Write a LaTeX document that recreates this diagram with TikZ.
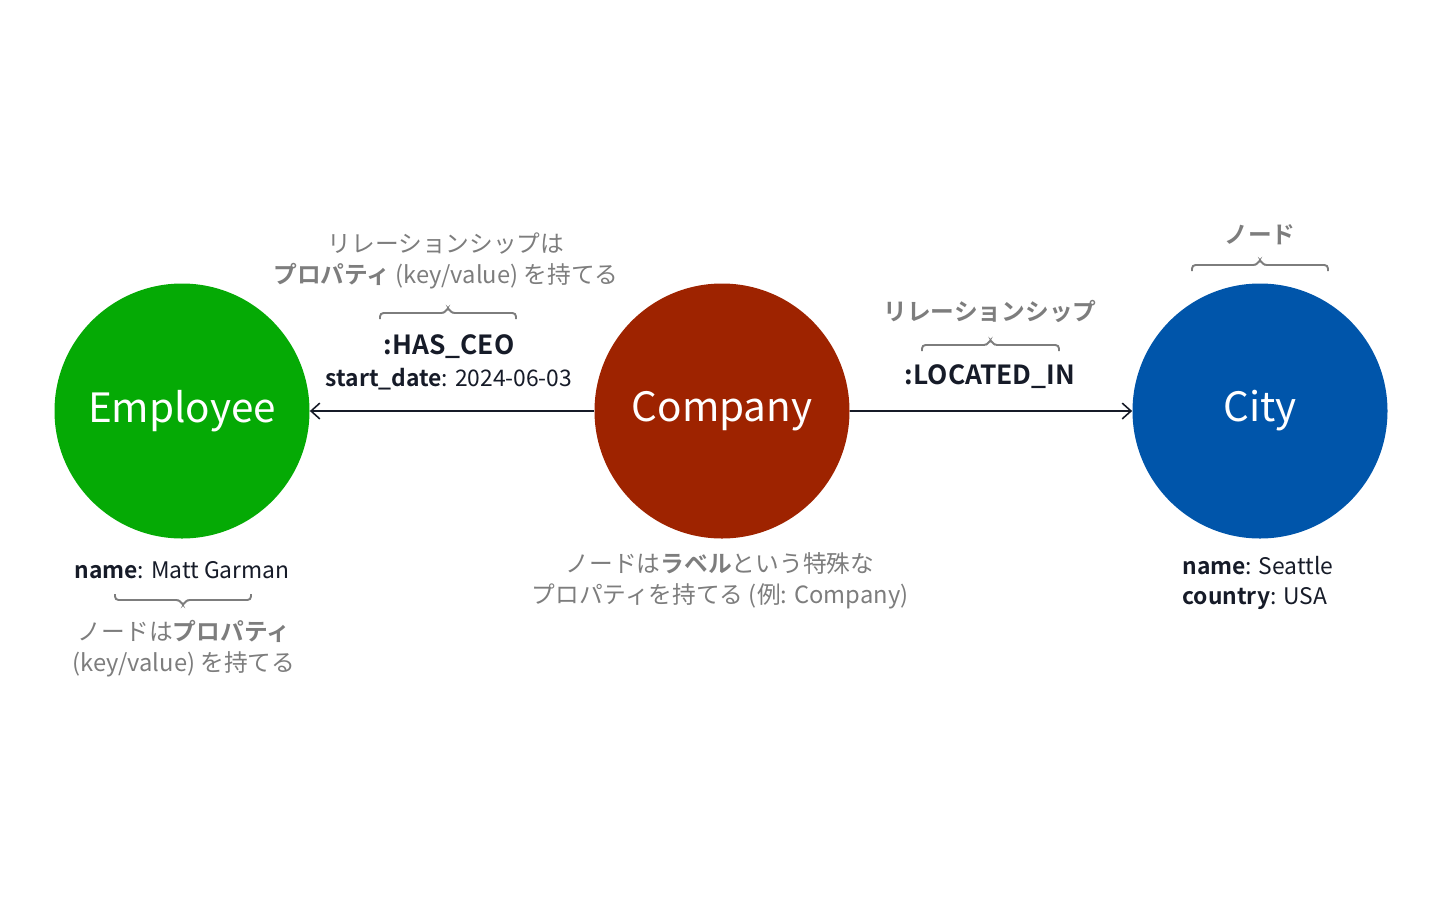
\documentclass[tikz,border=0pt]{standalone}
\usepackage{fontspec}
\setmainfont{Noto Sans CJK JP}[BoldFont={Noto Sans CJK JP Bold}]
\usetikzlibrary{arrows.meta}
\definecolor{empgreen}{RGB}{5,170,5}
\definecolor{comred}{RGB}{158,35,0}
\definecolor{cityblue}{RGB}{0,85,170}
\definecolor{inkdark}{RGB}{22,27,40}
\definecolor{notegray}{RGB}{125,125,125}
\tikzset{
  entity/.style={circle,minimum size=255*0.02cm,inner sep=0pt,text=white,font=\fontsize{23}{26}\selectfont},
  reltext/.style={text=inkdark,font=\bfseries\fontsize{15}{18}\selectfont,inner sep=0pt},
  proptext/.style={text=inkdark,font=\fontsize{13}{17}\selectfont,inner sep=0pt,align=left},
  note/.style={text=notegray,font=\fontsize{13.5}{17.5}\selectfont,inner sep=0pt,align=center},
  bracket/.style={draw=notegray,line width=1.1pt,rounded corners=2pt},
  link/.style={draw=inkdark,line width=0.9pt,-{Straight Barb[length=5pt,width=9pt]}}
}
% bracket: x1, x2, y, tip offset (neg = up)
\newcommand{\brk}[4]{\draw[bracket] (#1,#3-#4) -- (#1,#3) -- ({(#1+#2)/2-3},#3) -- ({(#1+#2)/2},#3+#4) -- ({(#1+#2)/2+3},#3) -- (#2,#3) -- (#2,#3-#4);}
\begin{document}
\begin{tikzpicture}[x=0.02cm,y=-0.02cm]
	\useasboundingbox (0,0) rectangle (1447,900);
	\node[entity,fill=empgreen] (emp) at (182,411) {Employee};
	\node[entity,fill=comred] (com) at (722,411) {Company};
	\node[entity,fill=cityblue] (city) at (1260,411) {City};
	\draw[link] (com) -- (emp);
	\draw[link] (com) -- (city);
	% relation labels
	\node[reltext] (hasceo) at (449,347) {:HAS\_CEO};
	\node[proptext] (sdate) at (449,379) {\textbf{start\_date}: 2024-06-03};
	\node[reltext] (locin) at (990,377) {:LOCATED\_IN};
	\node[note] (relprop) at (446,261) {リレーションシップは\\\textbf{プロパティ} (key/value) を持てる};
	\node[note,font=\bfseries\fontsize{13.5}{17.5}\selectfont] (relnote) at (990,311) {リレーションシップ};
	\node[note,font=\bfseries\fontsize{13.5}{17.5}\selectfont] (nodenote) at (1260,235) {ノード};
	\brk{380}{516}{313}{-6}
	\brk{922}{1059}{345}{-6}
	\brk{1192}{1328}{265}{-6}
	% node properties
	\node[proptext] (empprop) at (182,570) {\textbf{name}: Matt Garman};
	\brk{115}{251}{600}{6}
	\node[note] (empnote) at (184,649) {ノードは\textbf{プロパティ}\\(key/value) を持てる};
	\node[note] (comnote) at (720,581) {ノードは\textbf{ラベル}という特殊な\\プロパティを持てる (例: Company)};
	\node[proptext,anchor=north west] (cityprop) at (1182,556) {\textbf{name}: Seattle\\\textbf{country}: USA};
\end{tikzpicture}
\end{document}
